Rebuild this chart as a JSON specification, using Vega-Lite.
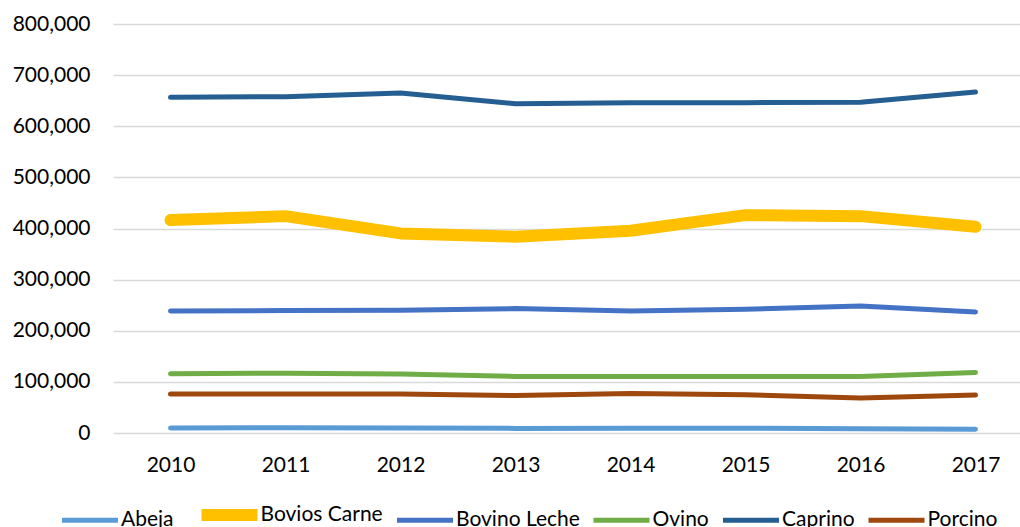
{
  "$schema": "https://vega.github.io/schema/vega-lite/v6.json",
  "width": 907,
  "height": 409,
  "autosize": {"type": "none"},
  "padding": {"left": 113, "top": 24, "right": 0, "bottom": 94},
  "background": "white",
  "config": {
    "view": {"stroke": null},
    "font": "Lato",
    "axis": {"labelFont": "Lato", "labelColor": "#000000"},
    "legend": {"labelFont": "Lato", "labelColor": "#000000"}
  },
  "data": {
    "values": [
      {"year": 2010, "series": "Abeja", "value": 10000},
      {"year": 2011, "series": "Abeja", "value": 10500},
      {"year": 2012, "series": "Abeja", "value": 10000},
      {"year": 2013, "series": "Abeja", "value": 9000},
      {"year": 2014, "series": "Abeja", "value": 9500},
      {"year": 2015, "series": "Abeja", "value": 9500},
      {"year": 2016, "series": "Abeja", "value": 8500},
      {"year": 2017, "series": "Abeja", "value": 7500},
      {"year": 2010, "series": "Bovios Carne", "value": 416400},
      {"year": 2011, "series": "Bovios Carne", "value": 424200},
      {"year": 2012, "series": "Bovios Carne", "value": 390400},
      {"year": 2013, "series": "Bovios Carne", "value": 383800},
      {"year": 2014, "series": "Bovios Carne", "value": 395500},
      {"year": 2015, "series": "Bovios Carne", "value": 426100},
      {"year": 2016, "series": "Bovios Carne", "value": 424200},
      {"year": 2017, "series": "Bovios Carne", "value": 403300},
      {"year": 2010, "series": "Bovino Leche", "value": 238800},
      {"year": 2011, "series": "Bovino Leche", "value": 239500},
      {"year": 2012, "series": "Bovino Leche", "value": 240100},
      {"year": 2013, "series": "Bovino Leche", "value": 243300},
      {"year": 2014, "series": "Bovino Leche", "value": 238800},
      {"year": 2015, "series": "Bovino Leche", "value": 242000},
      {"year": 2016, "series": "Bovino Leche", "value": 248500},
      {"year": 2017, "series": "Bovino Leche", "value": 236800},
      {"year": 2010, "series": "Ovino", "value": 115800},
      {"year": 2011, "series": "Ovino", "value": 117100},
      {"year": 2012, "series": "Ovino", "value": 115200},
      {"year": 2013, "series": "Ovino", "value": 110600},
      {"year": 2014, "series": "Ovino", "value": 110600},
      {"year": 2015, "series": "Ovino", "value": 110600},
      {"year": 2016, "series": "Ovino", "value": 110600},
      {"year": 2017, "series": "Ovino", "value": 118300},
      {"year": 2010, "series": "Caprino", "value": 656500},
      {"year": 2011, "series": "Caprino", "value": 657900},
      {"year": 2012, "series": "Caprino", "value": 665000},
      {"year": 2013, "series": "Caprino", "value": 644200},
      {"year": 2014, "series": "Caprino", "value": 646200},
      {"year": 2015, "series": "Caprino", "value": 646200},
      {"year": 2016, "series": "Caprino", "value": 646800},
      {"year": 2017, "series": "Caprino", "value": 666900},
      {"year": 2010, "series": "Porcino", "value": 76100},
      {"year": 2011, "series": "Porcino", "value": 76100},
      {"year": 2012, "series": "Porcino", "value": 76100},
      {"year": 2013, "series": "Porcino", "value": 73400},
      {"year": 2014, "series": "Porcino", "value": 77300},
      {"year": 2015, "series": "Porcino", "value": 74800},
      {"year": 2016, "series": "Porcino", "value": 68300},
      {"year": 2017, "series": "Porcino", "value": 74200}
    ]
  },
  "mark": {"type": "line", "strokeCap": "round", "strokeJoin": "round"},
  "encoding": {
    "x": {
      "field": "year",
      "type": "quantitative",
      "scale": {"domain": [2009.5, 2017.387], "nice": false, "zero": false},
      "axis": {
        "title": null,
        "values": [2010, 2011, 2012, 2013, 2014, 2015, 2016, 2017],
        "format": "d",
        "labelAngle": 0,
        "domain": false,
        "ticks": false,
        "grid": false,
        "labelFontSize": 21,
        "labelPadding": 21,
        "labelFlush": false
      }
    },
    "y": {
      "field": "value",
      "type": "quantitative",
      "scale": {"domain": [0, 800000], "nice": false},
      "axis": {
        "title": null,
        "values": [0, 100000, 200000, 300000, 400000, 500000, 600000, 700000, 800000],
        "format": ",d",
        "domain": false,
        "ticks": false,
        "grid": true,
        "gridColor": "#D9D9D9",
        "gridWidth": 1.5,
        "labelFontSize": 21,
        "labelPadding": 23
      }
    },
    "color": {
      "field": "series",
      "type": "nominal",
      "scale": {
        "domain": ["Abeja", "Bovios Carne", "Bovino Leche", "Ovino", "Caprino", "Porcino"],
        "range": ["#5B9BD5", "#FFC000", "#4472C4", "#70AD47", "#255E91", "#9E480E"]
      },
      "legend": {
        "title": null,
        "orient": "none",
        "direction": "horizontal",
        "columns": 6,
        "legendX": -57,
        "legendY": 457,
        "symbolType": "stroke",
        "symbolSize": 3136,
        "symbolStrokeWidth": 5,
        "labelFontSize": 21,
        "labelOffset": -3,
        "columnPadding": 3.5,
        "labelLimit": 300
      }
    },
    "strokeWidth": {
      "field": "series",
      "type": "nominal",
      "scale": {
        "type": "ordinal",
        "domain": ["Abeja", "Bovios Carne", "Bovino Leche", "Ovino", "Caprino", "Porcino"],
        "range": [5, 12, 5, 5, 5, 5]
      },
      "legend": null
    }
  }
}
